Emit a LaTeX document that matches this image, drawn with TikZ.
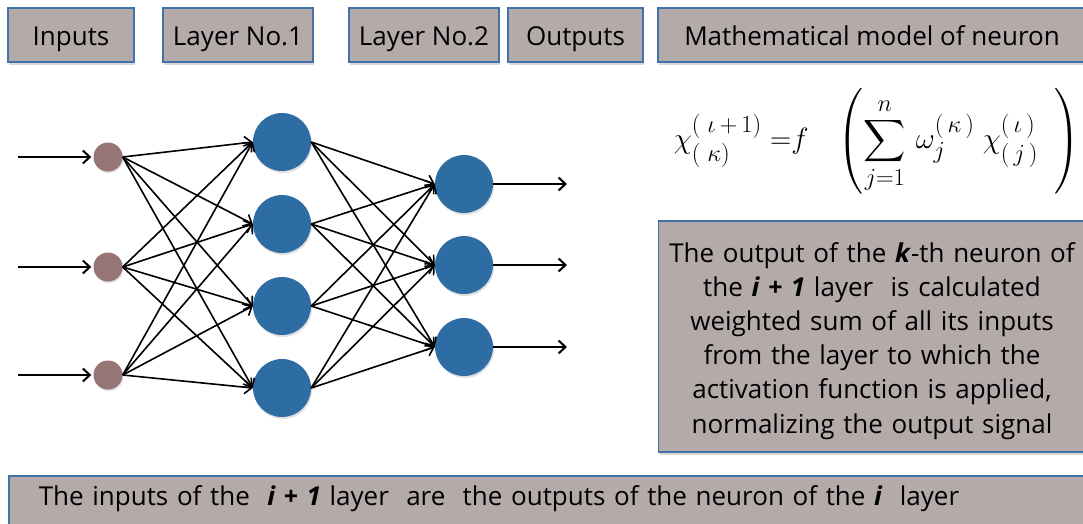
\documentclass[tikz,border=0pt]{standalone}
\usepackage{amsmath}
\usepackage{fontspec}
\setmainfont{Open Sans}
\usetikzlibrary{arrows.meta,shadows}
\definecolor{boxfill}{RGB}{180,170,170}
\definecolor{boxline}{RGB}{66,114,172}
\definecolor{neucol}{RGB}{46,108,164}
\definecolor{inpcol}{RGB}{150,117,117}

\begin{document}
\begin{tikzpicture}[x=1pt,y=-1pt,
  font=\fontsize{26}{34.2}\selectfont,
  hdr/.style={draw=boxline,fill=boxfill,line width=1.5pt,inner ysep=0pt,
    text height=38pt,text depth=16pt,anchor=base,
    drop shadow={shadow xshift=1pt,shadow yshift=-3pt,opacity=.3}},
  note/.style={hdr,inner ysep=0pt},
  inp/.style={circle,fill=inpcol,minimum size=29pt,inner sep=0pt,
    drop shadow={shadow xshift=1pt,shadow yshift=-1.5pt,opacity=.25}},
  neu/.style={circle,fill=neucol,minimum size=58pt,inner sep=0pt,
    drop shadow={shadow xshift=1pt,shadow yshift=-2pt,opacity=.25}},
  link/.style={->,line width=1.6pt},
  >={Straight Barb[length=7pt,width=13pt]}]
\useasboundingbox (0,0) rectangle (1083,524);
% headers
\node[hdr,minimum width=126pt] (inputs) at (71,46) {Inputs};
\node[hdr,minimum width=150pt] (layer1) at (238,46) {Layer No.1};
\node[hdr,minimum width=150pt] (layer2) at (424,46) {Layer No.2};
\node[hdr,minimum width=135pt] (outputs) at (575.5,46) {Outputs};
\node[hdr,minimum width=428pt] (model) at (872,46) {Mathematical model of neuron};
% formula
\node[font=\fontsize{24.88}{30}\selectfont] (formula) at (877,141)
  {\scalebox{1.18}{$\displaystyle \chi^{(\;\iota\,+\,1)}_{(\;\kappa)}\;{=}f\;\;\;\left(\sum_{j=1}^{n}\,\omega^{(\,\kappa\,)}_{j}\;\chi^{(\,\iota\,)}_{(\,j\,)}\;\;\right)$}};
\node[note,text width=411pt,inner xsep=8pt,align=center,text height=41pt,text depth=190pt]
  (expl) at (872,262) {The output of the \textbf{\textit{k}}-th neuron of\\
  the \textbf{\textit{i + 1}} layer\ \ is calculated\\
  weighted sum of all its inputs\\
  from the layer to which the\\
  activation function is applied,\\
  normalizing the output signal};
\node[note,anchor=north west,text width=1027pt,inner xsep=30pt,align=left,
  text height=30pt,text depth=25pt] (rule) at (8,475)
  {The inputs of the \ \textbf{\textit{i + 1}} layer\ \ are\ \ the outputs of the neuron of the \textbf{\textit{i}}\ \ layer};
% network
\foreach \i/\y in {1/157,2/267,3/375}{
  \node[inp] (x\i) at (108,\y) {};
  \coordinate (s\i) at (18,\y);
  \draw[->,line width=2pt,shorten >=2pt] (s\i) -- (x\i);
}
\foreach \j/\y in {1/142,2/224,3/306,4/388}
  \node[neu] (h\j) at (282,\y) {};
\foreach \k/\y in {1/184,2/265,3/347}{
  \node[neu] (o\k) at (464,\y) {};
  \coordinate (e\k) at (567,\y);
  \draw[->,line width=2pt] (o\k) -- (e\k);
}
\foreach \i in {1,2,3}
  \foreach \j in {1,...,4}
    \draw[link] (x\i.east) -- (h\j.west);
\foreach \j in {1,...,4}
  \foreach \k in {1,2,3}
    \draw[link] (h\j.east) -- (o\k.west);
\end{tikzpicture}
\end{document}
